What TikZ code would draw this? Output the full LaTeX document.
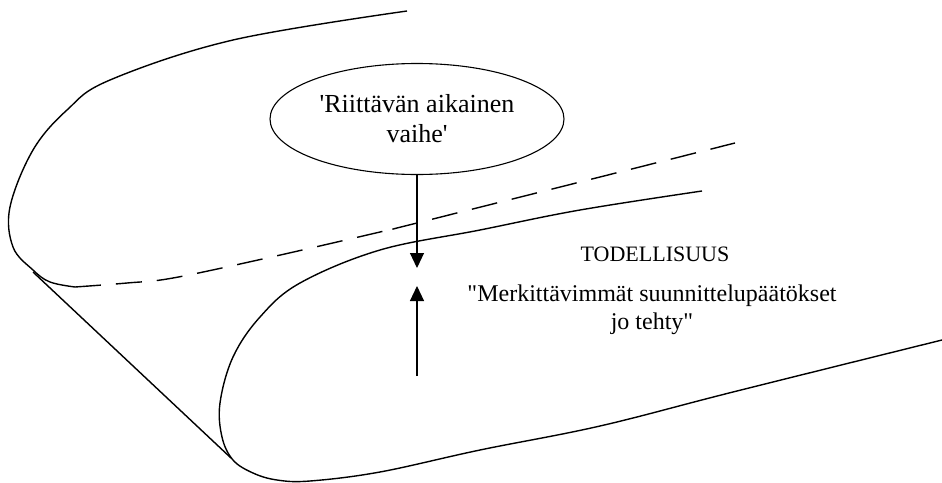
\documentclass[tikz,border=0pt]{standalone}
\usepackage{fontspec}
\setmainfont{Liberation Serif}
\usetikzlibrary{arrows.meta,shapes.geometric}

\tikzset{
  reuna/.style={line width=1.4pt, line join=round},
  katko/.style={reuna, dash pattern=on 26pt off 15pt},
  nuoli/.style={line width=1.1pt, -{Triangle[length=15pt,width=14pt]}},
  teksti/.style={align=center, inner sep=0pt, font=\fontsize{24}{28}\selectfont}
}

\begin{document}
\begin{tikzpicture}[x=1pt,y=-1pt]
 \useasboundingbox (0,0) rectangle (942,482);
 % upper sheet
 \draw[reuna] plot[smooth, tension=0.6] coordinates
   {(407,11) (233,40) (110,80) (67,110) (33,150) (10,207) (13,247) (33,270) (50,282) (75,287)};
 \draw[katko] plot[smooth, tension=0.6] coordinates
   {(75,287) (127,283) (173,278) (267,258) (380,232) (417,223) (735,143)};
 \draw[reuna] (33,272) -- (231,458);
 % lower sheet
 \draw[reuna] plot[smooth, tension=0.6] coordinates
   {(702,191) (580,210) (480,230) (380,250) (300,283) (260,317) (233,357) (220,403)
    (222,437) (233,460) (253,473) (277,480) (310,481) (380,472) (480,450) (600,426)
    (733,392) (942,340)};
 % labels
 \node[teksti, font=\fontsize{26}{30}\selectfont, draw, ellipse, line width=1.1pt,
   minimum width=294pt, minimum height=111pt]
   (vaihe) at (417,119) {\textquotesingle Riittävän aikainen\\vaihe\textquotesingle};
 \node[teksti, font=\fontsize{22}{26}\selectfont] (todellisuus) at (655,254) {TODELLISUUS};
 \node[teksti] (paatokset) at (652,310)
   {\textquotedbl Merkittävimmät suunnittelupäätökset\\jo tehty\textquotedbl};
 % arrows
 \coordinate (ylakarki) at (417,268);
 \coordinate (alakarki) at (417,286);
 \coordinate (alapaa) at (417,376);
 \draw[nuoli] (vaihe.south) -- (ylakarki);
 \draw[nuoli] (alapaa) -- (alakarki);
\end{tikzpicture}
\end{document}
